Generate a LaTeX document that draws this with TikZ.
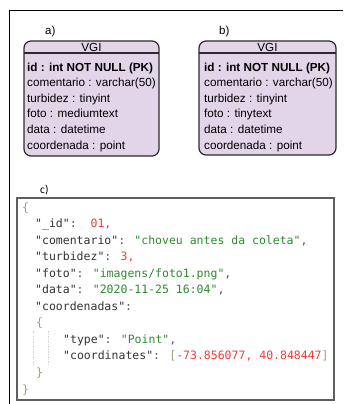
\documentclass[tikz,border=0pt]{standalone}
\usepackage{fontspec}
\setmainfont{Liberation Sans}
\newfontfamily\codefont{DejaVu Sans Mono}
\newfontfamily\calfont{Carlito}
\definecolor{tblfill}{HTML}{E1D5E7}
\definecolor{tblline}{HTML}{2B2B2B}
\definecolor{boxline}{HTML}{5E5E5E}
\definecolor{jkey}{HTML}{333333}
\definecolor{jstr}{HTML}{2E8B2E}
\definecolor{jnum}{HTML}{F03C3C}
\definecolor{jbr}{HTML}{A0A070}
\definecolor{jpun}{HTML}{555555}
\definecolor{guide}{HTML}{D6D6D6}
\newcommand{\jk}[1]{\textcolor{jkey}{#1}}
\newcommand{\jstr}[1]{\textcolor{jstr}{#1}}
\newcommand{\jn}[1]{\textcolor{jnum}{#1}}
\newcommand{\jb}[1]{\textcolor{jbr}{#1}}
\newcommand{\jp}[1]{\textcolor{jpun}{#1}}
\tikzset{
  tbl/.style={draw=tblline, fill=tblfill, line width=1.2pt, rounded corners=7pt},
  row/.style={anchor=base west, inner sep=0pt, font=\fontsize{11.7}{14}\selectfont},
  hdr/.style={anchor=base, inner sep=0pt, font=\fontsize{11.7}{14}\selectfont},
  lbl/.style={anchor=base west, inner sep=0pt, font=\fontsize{11.5}{14}\selectfont},
  code/.style={anchor=base west, inner sep=0pt, font=\fontsize{11.5}{14}\codefont},
}
\begin{document}
\begin{tikzpicture}[x=1pt,y=-1pt]
\useasboundingbox (0,0) rectangle (343,404);
\fill[white] (0,0) rectangle (343,404);
% outer frame
\draw[line width=0.9pt] (9,404) -- (9,10) -- (343,10);

% labels
\node[lbl] (la) at (45,35) {a)};
\node[lbl] (lb) at (219,35) {b)};
\node[lbl, font=\fontsize{11.5}{14}\calfont] (lc) at (40,193) {c)};

% table a
\draw[tbl] (24,41) rectangle (159,156);
\draw[line width=1.2pt, tblline] (24,53) -- (159,53);
\node[hdr] (ha) at (91.5,51.5) {VGI};
\node[row] (a1) at (27,71) {\textbf{id : int NOT NULL (PK)}};
\node[row] (a2) at (27,86.6) {comentario : varchar(50)};
\node[row] (a3) at (27,102.2) {turbidez : tinyint};
\node[row] (a4) at (27,117.8) {foto : mediumtext};
\node[row] (a5) at (27,133.4) {data : datetime};
\node[row] (a6) at (27,149) {coordenada : point};

% table b
\draw[tbl] (199,41) rectangle (336,155);
\draw[line width=1.2pt, tblline] (199,53) -- (336,53);
\node[hdr] (hb) at (267.5,51.5) {VGI};
\node[row] (b1) at (204,71) {\textbf{id : int NOT NULL (PK)}};
\node[row] (b2) at (204,86.6) {comentario : varchar(50)};
\node[row] (b3) at (204,102.2) {turbidez : tinyint};
\node[row] (b4) at (204,117.8) {foto : tinytext};
\node[row] (b5) at (204,133.4) {data : datetime};
\node[row] (b6) at (204,149) {coordenada : point};

% code box
\draw[boxline, line width=1.2pt] (17,198) rectangle (334,400);
\draw[guide, line width=0.8pt, dash pattern=on 1.5pt off 1pt] (33,331) -- (33,365);
\draw[guide, line width=0.8pt, dash pattern=on 1.5pt off 1pt] (48,331) -- (48,365);
\node[code] (c0) at (22,211) {\jb{\{}};
\node[code] (c1) at (35,227.5) {\jk{"\_id"}\jp{:}\ \ \jn{01,}};
\node[code] (c2) at (35,244.1) {\jk{"comentario"}\jp{:} \jstr{"choveu antes da coleta"}\jp{,}};
\node[code] (c3) at (35,260.6) {\jk{"turbidez"}\jp{:} \jn{3,}};
\node[code] (c4) at (35,277.2) {\jk{"foto"}\jp{:} \jstr{"imagens/foto1.png"}\jp{,}};
\node[code] (c5) at (35,293.7) {\jk{"data"}\jp{:} \jstr{"2020-11-25 16:04"}\jp{,}};
\node[code] (c6) at (35,310.3) {\jk{"coordenadas"}\jp{:}};
\node[code] (c7) at (36,326.8) {\jb{\{}};
\node[code] (c8) at (63,343.4) {\jk{"type"}\jp{:} \jstr{"Point"}\jp{,}};
\node[code] (c9) at (63,359.9) {\jk{"coordinates"}\jp{:} \jb{[}\jn{-73.856077, 40.848447}\jb{]}};
\node[code] (c10) at (36,376.5) {\jb{\}}};
\node[code] (c11) at (22,393) {\jb{\}}};
\end{tikzpicture}
\end{document}
